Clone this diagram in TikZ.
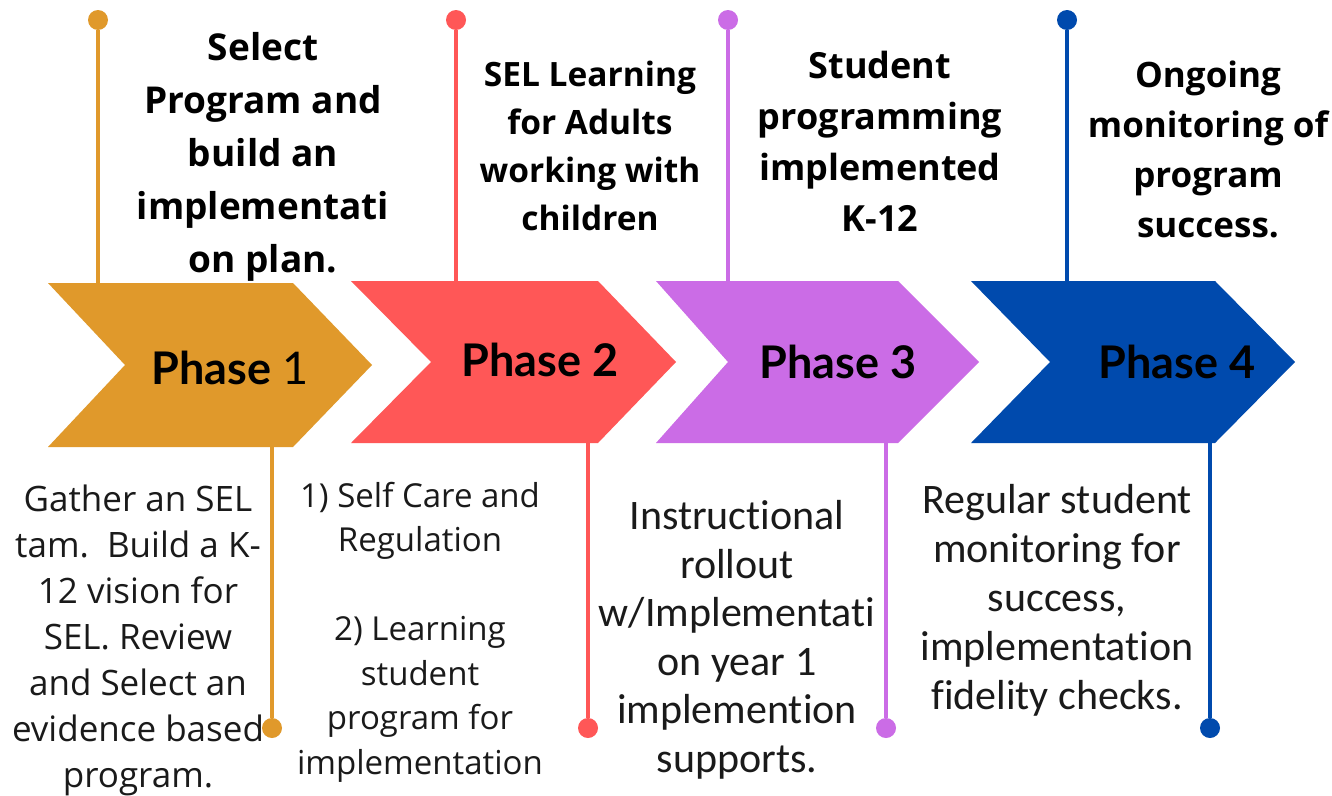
\documentclass[tikz,border=0pt]{standalone}
\usepackage{fontspec}
\setmainfont{Open Sans}
\newfontfamily\titlef{Open Sans}
\newfontfamily\phasef{Lato}
\newfontfamily\narrowf[Ligatures=NoCommon]{Carlito}
\definecolor{cOr}{HTML}{E0992B}
\definecolor{cRd}{HTML}{FF5757}
\definecolor{cPu}{HTML}{CB6CE6}
\definecolor{cBl}{HTML}{004AAD}
\definecolor{cTx}{HTML}{1A1A1A}
\tikzset{
  pin/.style={line width=4pt},
  dot/.style={circle, inner sep=0pt, minimum size=20pt},
  title/.style={align=center, inner sep=0pt, text=black, font=\titlef\bfseries},
  body/.style={align=center, inner sep=0pt, text=cTx},
  phase/.style={inner sep=0pt, text=black, font=\phasef\bfseries\fontsize{45}{50}\selectfont},
}
\begin{document}
\begin{tikzpicture}[x=1pt,y=-1pt]
\path[use as bounding box, fill=white] (0,0) rectangle (1332,795);

% pins (top)
\node[dot, fill=cOr] (t1) at (98,20) {};
\node[dot, fill=cRd] (t2) at (456,20) {};
\node[dot, fill=cPu] (t3) at (728,20) {};
\node[dot, fill=cBl] (t4) at (1067,20) {};
\coordinate (c1t) at (98,290);
\coordinate (c2t) at (456,288);
\coordinate (c3t) at (728,288);
\coordinate (c4t) at (1067,288);
\draw[pin, cOr] (t1) -- (c1t);
\draw[pin, cRd] (t2) -- (c2t);
\draw[pin, cPu] (t3) -- (c3t);
\draw[pin, cBl] (t4) -- (c4t);

% pins (bottom)
\node[dot, fill=cOr] (b1) at (272,728) {};
\node[dot, fill=cRd] (b2) at (588,728) {};
\node[dot, fill=cPu] (b3) at (886,728) {};
\node[dot, fill=cBl] (b4) at (1210,728) {};
\coordinate (c1b) at (272,440);
\coordinate (c2b) at (588,436);
\coordinate (c3b) at (886,436);
\coordinate (c4b) at (1210,436);
\draw[pin, cOr] (c1b) -- (b1);
\draw[pin, cRd] (c2b) -- (b2);
\draw[pin, cPu] (c3b) -- (b3);
\draw[pin, cBl] (c4b) -- (b4);

% chevrons
\fill[cOr] (48,283) -- (293,283) -- (372,365) -- (293,447) -- (48,447) -- (125,365) -- cycle;
\fill[cRd] (351,281) -- (598,281) -- (676,362) -- (598,443) -- (351,443) -- (431,362) -- cycle;
\fill[cPu] (656,281) -- (898,281) -- (979,362) -- (898,443) -- (656,443) -- (728,362) -- cycle;
\fill[cBl] (971,281) -- (1215,281) -- (1295,362) -- (1215,443) -- (971,443) -- (1050,362) -- cycle;

% phase labels
\node[phase] (p1) at (230,368) {Phase {\mdseries\fontsize{45}{50}\selectfont 1}};
\node[phase] (p2) at (540,360) {Phase 2};
\node[phase] (p3) at (838,362) {Phase 3};
\node[phase] (p4) at (1177,362) {Phase 4};

% titles
\node[title, font=\titlef\bfseries\fontsize{37}{53}\selectfont] (h1) at (263,157)
  {Select\\Program and\\build an\\implementati\\on plan.};
\node[title, font=\titlef\bfseries\fontsize{33.5}{48}\selectfont] (h2) at (590,146)
  {SEL Learning\\for Adults\\working with\\children};
\node[title, font=\titlef\bfseries\fontsize{36}{51}\selectfont] (h3) at (880,141)
  {Student\\programming\\implemented\\K-12};
\node[title, font=\titlef\bfseries\fontsize{35}{50}\selectfont] (h4) at (1208,149)
  {Ongoing\\monitoring of\\program\\success.};

% bodies
\node[body, font=\fontsize{35}{46}\selectfont] (d1) at (138,640)
  {Gather an SEL\\tam.\ \ Build a K-\\12 vision for\\SEL. Review\\and Select an\\evidence based\\program.};
\node[body, font=\fontsize{33}{44.5}\selectfont] (d2) at (420,632)
  {1) Self Care and\\Regulation\\[44.5pt]2) Learning\\student\\program for\\implementation};
\node[body, font=\narrowf\fontsize{42}{48.5}\selectfont] (d3) at (737,640)
  {Instructional\\rollout\\w/Implementati\\on year 1\\implemention\\supports.};
\node[body, font=\narrowf\fontsize{42}{49}\selectfont] (d4) at (1057,600)
  {Regular student\\monitoring for\\success,\\implementation\\fidelity checks.};
\end{tikzpicture}
\end{document}
